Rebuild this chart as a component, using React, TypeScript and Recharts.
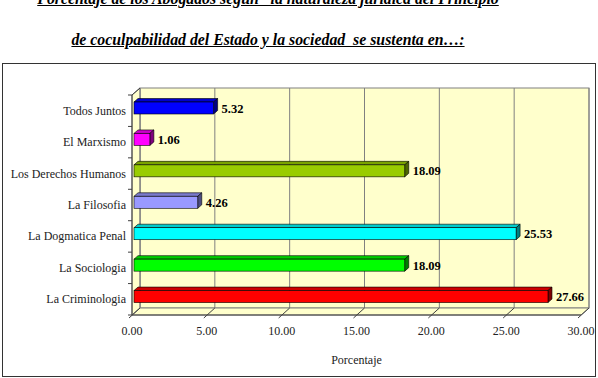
import { BarChart, Bar, XAxis, YAxis, Cell, LabelList, ReferenceArea } from 'recharts';

const categories = [
  'Todos Juntos',
  'El Marxismo',
  'Los Derechos Humanos',
  'La Filosofia',
  'La Dogmatica Penal',
  'La Sociologia',
  'La Criminologia',
];
const values = [5.32, 1.06, 18.09, 4.26, 25.53, 18.09, 27.66];
const barColors = ['#0000FF', '#FF00FF', '#99CC00', '#9999FF', '#00FFFF', '#00FF00', '#FF0000'];
const xTicks = [0, 5, 10, 15, 20, 25, 30];

const data = categories.map((name, i) => ({ name, value: values[i] }));

const SERIF = 'Liberation Serif';
const WALL = '#FFFFCC';
const GRID = '#808080';
const DEPTH_X = 8;
const DEPTH_Y = 7;

function shade(hex: string, k: number) {
  const n = parseInt(hex.slice(1), 16);
  const r = Math.round(((n >> 16) & 255) * k);
  const g = Math.round(((n >> 8) & 255) * k);
  const b = Math.round((n & 255) * k);
  return `rgb(${r},${g},${b})`;
}

// back wall, side wall and floor of the 3d plot
function Walls(props: any) {
  const { x, y, width, height } = props;
  const max = xTicks[xTicks.length - 1];
  const bottom = y + height;
  const n = categories.length;
  return (
    <g>
      <rect x={x + DEPTH_X} y={y - DEPTH_Y} width={width} height={height} fill={WALL} stroke={GRID} strokeWidth={1} />
      <polygon
        points={`${x},${y} ${x + DEPTH_X},${y - DEPTH_Y} ${x + DEPTH_X},${bottom - DEPTH_Y} ${x},${bottom}`}
        fill={WALL}
        stroke={GRID}
      />
      <polygon
        points={`${x},${bottom} ${x + DEPTH_X},${bottom - DEPTH_Y} ${x + width + DEPTH_X},${bottom - DEPTH_Y} ${x + width},${bottom}`}
        fill={WALL}
        stroke={GRID}
      />
      {xTicks.map((t) => {
        const gx = x + (width * t) / max;
        return (
          <g key={t}>
            <line x1={gx + DEPTH_X} y1={y - DEPTH_Y} x2={gx + DEPTH_X} y2={bottom - DEPTH_Y} stroke={GRID} />
            <line x1={gx + DEPTH_X} y1={bottom - DEPTH_Y} x2={gx - 3} y2={bottom + 3} stroke="#404040" />
          </g>
        );
      })}
      {Array.from({ length: n + 1 }).map((_, i) => {
        const by = y + (height * i) / n;
        return <line key={i} x1={x - 4} y1={by} x2={x} y2={by} stroke="#404040" />;
      })}
      <line x1={x} y1={y} x2={x + DEPTH_X} y2={y - DEPTH_Y} stroke="#404040" />
      <line x1={x} y1={y} x2={x} y2={bottom} stroke="#404040" />
      <line x1={x} y1={bottom} x2={x + width} y2={bottom} stroke="#404040" />
    </g>
  );
}

function Bar3D(props: any) {
  const { x, y, width, height, fill } = props;
  const d = 4;
  const dy = 3.5;
  const fx = x + 2;
  const fy = y - 3;
  const w = Math.max(width, 0);
  return (
    <g>
      <polygon
        points={`${fx},${fy} ${fx + d},${fy - dy} ${fx + w + d},${fy - dy} ${fx + w},${fy}`}
        fill={shade(fill, 0.8)}
        stroke="#000"
        strokeWidth={0.6}
      />
      <polygon
        points={`${fx + w},${fy} ${fx + w + d},${fy - dy} ${fx + w + d},${fy + height - dy} ${fx + w},${fy + height}`}
        fill={shade(fill, 0.5)}
        stroke="#000"
        strokeWidth={0.6}
      />
      <rect x={fx} y={fy} width={w} height={height} fill={fill} stroke="#000" strokeWidth={0.6} />
    </g>
  );
}

function ValueLabel(props: any) {
  const { x, y, width, height, value } = props;
  return (
    <text
      x={x + width + 10}
      y={y + height / 2 - 2.5}
      dominantBaseline="central"
      fontFamily={SERIF}
      fontWeight="bold"
      fontSize={12.5}
      fill="#000"
    >
      {Number(value).toFixed(2)}
    </text>
  );
}

function CategoryTick(props: any) {
  const { x, y, payload } = props;
  return (
    <text x={x} y={y} textAnchor="end" dominantBaseline="central" fill="#222" fontFamily={SERIF} fontSize={12}>
      {payload.value}
    </text>
  );
}

function NumberTick(props: any) {
  const { x, y, payload } = props;
  return (
    <text x={x} y={y + 10} textAnchor="middle" dominantBaseline="central" fill="#222" fontFamily={SERIF} fontSize={12}>
      {Number(payload.value).toFixed(2)}
    </text>
  );
}

export default function App() {
  const titleStyle: React.CSSProperties = {
    position: 'absolute',
    left: 0,
    width: 536,
    textAlign: 'center',
    fontFamily: SERIF,
    fontWeight: 'bold',
    fontStyle: 'italic',
    textDecoration: 'underline',
    fontSize: 15.8,
    lineHeight: '15.8px',
    whiteSpace: 'nowrap',
    color: '#000',
  };
  return (
    <div style={{ position: 'absolute', left: 0, top: 0, width: 598, height: 378, background: '#fff', overflow: 'hidden' }}>
      <div style={{ ...titleStyle, top: -9 }}>
        Porcentaje de los Abogados segun “la naturaleza juridica del Principio
      </div>
      <div style={{ ...titleStyle, top: 32 }}>
        de coculpabilidad del Estado y la sociedad&nbsp; se sustenta en…:
      </div>
      <div
        style={{
          position: 'absolute',
          left: 2,
          top: 63,
          width: 592,
          height: 312,
          border: '1.5px solid #333',
        }}
      />
      <div style={{ position: 'absolute', left: 0, top: 0 }}>
        <BarChart
          width={598}
          height={378}
          data={data}
          layout="vertical"
          margin={{ top: 95, right: 17, bottom: 8, left: 12 }}
          barSize={12}
        >
          <ReferenceArea x1={0} x2={30} shape={<Walls />} ifOverflow="visible" />
          <XAxis
            type="number"
            domain={[0, 30]}
            ticks={xTicks}
            axisLine={false}
            tickLine={false}
            tickSize={4}
            tickMargin={2}
            height={55}
            tick={<NumberTick />}
            label={{
              value: 'Porcentaje',
              position: 'insideBottom',
              offset: 6,
              fontFamily: SERIF,
              fontSize: 12,
              fill: '#222',
            }}
          />
          <YAxis
            type="category"
            dataKey="name"
            width={120}
            axisLine={false}
            tickLine={false}
            tickSize={4}
            tickMargin={2}
            interval={0}
            tick={<CategoryTick />}
          />
          <Bar dataKey="value" shape={<Bar3D />} isAnimationActive={false}>
            {data.map((d, i) => (
              <Cell key={d.name} fill={barColors[i]} />
            ))}
            <LabelList dataKey="value" content={<ValueLabel />} />
          </Bar>
        </BarChart>
      </div>
    </div>
  );
}
